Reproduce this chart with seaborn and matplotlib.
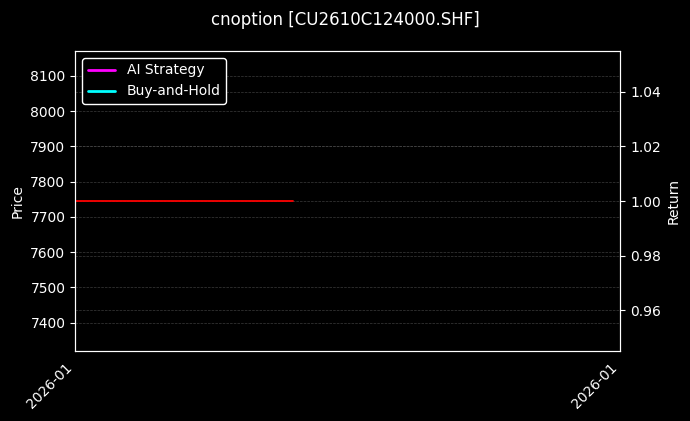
import pandas as pd
import matplotlib
matplotlib.use("Agg")
import matplotlib.pyplot as plt
import matplotlib.dates as mdates
import seaborn as sns

sns.set_theme(style="dark")
plt.style.use("dark_background")
plt.rcParams["font.family"] = ["DejaVu Sans"]
plt.rcParams.update({
    "font.size": 10, "axes.labelsize": 10, "xtick.labelsize": 10,
    "ytick.labelsize": 10, "legend.fontsize": 10,
    "xtick.major.size": 3.5, "ytick.major.size": 3.5,
    "xtick.major.width": 0.8, "ytick.major.width": 0.8,
    "axes.linewidth": 0.8,
})

TITLE = "cnoption [CU2610C124000.SHF]"

# price series (flat so far)
price_dates = ["2026-01-05", "2026-01-06", "2026-01-07"]
prices = [7745, 7745, 7745]

# return series: only the starting point exists yet
ret_dates = ["2026-01-05"]
ai_returns = [1.0]
bh_returns = [1.0]

x_range = ["2026-01-05", "2026-01-10"]

price_df = pd.DataFrame({"Date": pd.to_datetime(price_dates), "Price": prices})
ret_df = pd.DataFrame({"Date": pd.to_datetime(ret_dates), "AI": ai_returns, "BH": bh_returns})

fig = plt.figure(figsize=(6.9, 4.21), dpi=100, facecolor="black")
ax = fig.add_axes([0.109, 0.166, 0.79, 0.713])

sns.lineplot(data=price_df, x="Date", y="Price", ax=ax, color="red", linewidth=1.3)
ax.set_ylabel("Price", color="white")
ax.set_xlabel("")
ax.grid(True, linestyle="--", linewidth=0.5, color="#555555", alpha=0.7)

ax2 = ax.twinx()
sns.lineplot(data=ret_df, x="Date", y="AI", ax=ax2, color="magenta", linewidth=2, label="AI Strategy")
sns.lineplot(data=ret_df, x="Date", y="BH", ax=ax2, color="cyan", linewidth=2, label="Buy-and-Hold")
ax2.set_ylabel("Return", color="white")
ax2.grid(True, linestyle="--", linewidth=0.5, color="#555555", alpha=0.7)
handles, labels = ax2.get_legend_handles_labels()
ax2.get_legend().remove()

# keep price line on top of the return grid
ax.set_zorder(ax2.get_zorder() + 1)
ax.patch.set_visible(False)
ax2.set_facecolor("black")

lims = pd.to_datetime(x_range)
ax.set_xlim(lims[0], lims[-1])
ax.set_xticks(lims)
ax.xaxis.set_major_formatter(mdates.DateFormatter("%Y-%m"))
plt.setp(ax.get_xticklabels(), rotation=45, ha="right")

for a in (ax, ax2):
    for s in a.spines.values():
        s.set_color("white")
    a.tick_params(colors="white")

leg = ax.legend(handles, labels, loc="upper left", facecolor="black",
                edgecolor="white", framealpha=1)
for t in leg.get_texts():
    t.set_color("white")

fig.suptitle(TITLE, color="white", fontsize=12, y=0.975)

fig.savefig("out.png", dpi=100, facecolor="black")
